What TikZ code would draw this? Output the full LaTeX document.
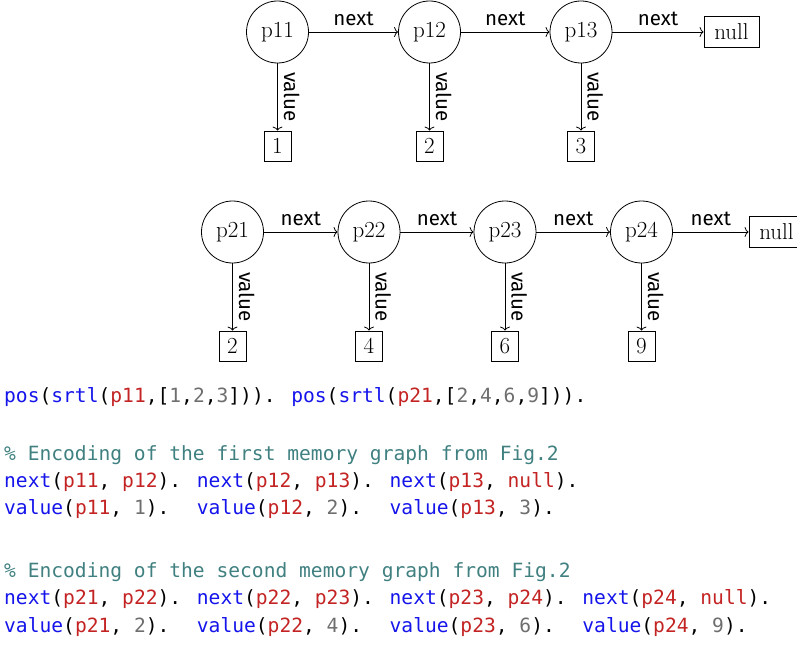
\documentclass[tikz,border=0pt]{standalone}
\usepackage{fontspec}
\newfontfamily\codefont{DejaVu Sans Mono}
\newfontfamily\labelfont{Fira Sans}
\usetikzlibrary{arrows.meta}
\definecolor{kwblue}{RGB}{20,20,235}
\definecolor{atomred}{RGB}{195,35,35}
\definecolor{numgray}{RGB}{110,110,110}
\definecolor{cmtteal}{RGB}{64,128,128}
\newcommand\kwd[1]{\textcolor{kwblue}{#1}}
\newcommand\atm[1]{\textcolor{atomred}{#1}}
\newcommand\nmb[1]{\textcolor{numgray}{#1}}
\newcommand\cmt[1]{\textcolor{cmtteal}{#1}}
\begin{document}
\begin{tikzpicture}[x=1pt,y=-1pt,
  ptr/.style={circle, draw, line width=0.8pt, minimum size=62pt, inner sep=0pt, font=\fontsize{23}{27}\selectfont},
  valbox/.style={rectangle, draw, line width=0.8pt, minimum width=27pt, minimum height=30pt, inner sep=0pt, font=\fontsize{23}{27}\selectfont},
  nullbox/.style={rectangle, draw, line width=0.8pt, minimum width=55pt, minimum height=31pt, inner sep=0pt, font=\fontsize{23}{27}\selectfont},
  ptrlink/.style={draw, line width=0.8pt, -{To[length=4pt,width=10pt]}},
  lbl/.style={font=\labelfont\fontsize{20.5}{24}\selectfont, inner sep=6pt},
  codeline/.style={anchor=base west, inner sep=0pt, font=\codefont\fontsize{19.6}{27}\selectfont}
]
\useasboundingbox (0,0) rectangle (797,647);

% first memory graph
\node[ptr] (p11) at (277.5,32) {p11};
\node[ptr] (p12) at (429.5,32) {p12};
\node[ptr] (p13) at (581,32) {p13};
\node[nullbox] (n1) at (731.5,32) {null};
\node[valbox] (v11) at (277.5,146) {1};
\node[valbox] (v12) at (429.5,146) {2};
\node[valbox] (v13) at (581,146) {3};

\draw[ptrlink] (p11) -- node[lbl, above]{next} (p12);
\draw[ptrlink] (p12) -- node[lbl, above]{next} (p13);
\draw[ptrlink] (p13) -- node[lbl, above]{next} (n1);
\draw[ptrlink] (p11) -- node[lbl, sloped, above]{value} (v11);
\draw[ptrlink] (p12) -- node[lbl, sloped, above]{value} (v12);
\draw[ptrlink] (p13) -- node[lbl, sloped, above]{value} (v13);

% second memory graph
\node[ptr] (p21) at (232.5,232) {p21};
\node[ptr] (p22) at (369,232) {p22};
\node[ptr] (p23) at (505,232) {p23};
\node[ptr] (p24) at (641.5,232) {p24};
\node[nullbox] (n2) at (776.5,232) {null};
\node[valbox] (v21) at (232.5,346) {2};
\node[valbox] (v22) at (369,346) {4};
\node[valbox] (v23) at (505,346) {6};
\node[valbox] (v24) at (641.5,346) {9};

\draw[ptrlink] (p21) -- node[lbl, above]{next} (p22);
\draw[ptrlink] (p22) -- node[lbl, above]{next} (p23);
\draw[ptrlink] (p23) -- node[lbl, above]{next} (p24);
\draw[ptrlink] (p24) -- node[lbl, above]{next} (n2);
\draw[ptrlink] (p21) -- node[lbl, sloped, above]{value} (v21);
\draw[ptrlink] (p22) -- node[lbl, sloped, above]{value} (v22);
\draw[ptrlink] (p23) -- node[lbl, sloped, above]{value} (v23);
\draw[ptrlink] (p24) -- node[lbl, sloped, above]{value} (v24);

% code
\node[codeline] (c1) at (4,402) {\kwd{pos}(\kwd{srtl}(\atm{p11},[\nmb{1},\nmb{2},\nmb{3}])). \kwd{pos}(\kwd{srtl}(\atm{p21},[\nmb{2},\nmb{4},\nmb{6},\nmb{9}])).};
\node[codeline] (c2) at (4,460) {\cmt{\% Encoding of the first memory graph from Fig.2}};
\node[codeline] (c3) at (4,487) {\kwd{next}(\atm{p11}, \atm{p12}). \kwd{next}(\atm{p12}, \atm{p13}). \kwd{next}(\atm{p13}, \atm{null}).};
\node[codeline] (c4) at (4,514) {\kwd{value}(\atm{p11}, \nmb{1}).~ \kwd{value}(\atm{p12}, \nmb{2}).~ \kwd{value}(\atm{p13}, \nmb{3}).};
\node[codeline] (c5) at (4,577) {\cmt{\% Encoding of the second memory graph from Fig.2}};
\node[codeline] (c6) at (4,604) {\kwd{next}(\atm{p21}, \atm{p22}). \kwd{next}(\atm{p22}, \atm{p23}). \kwd{next}(\atm{p23}, \atm{p24}). \kwd{next}(\atm{p24}, \atm{null}).};
\node[codeline] (c7) at (4,632) {\kwd{value}(\atm{p21}, \nmb{2}).~ \kwd{value}(\atm{p22}, \nmb{4}).~ \kwd{value}(\atm{p23}, \nmb{6}).~ \kwd{value}(\atm{p24}, \nmb{9}).};
\end{tikzpicture}
\end{document}
